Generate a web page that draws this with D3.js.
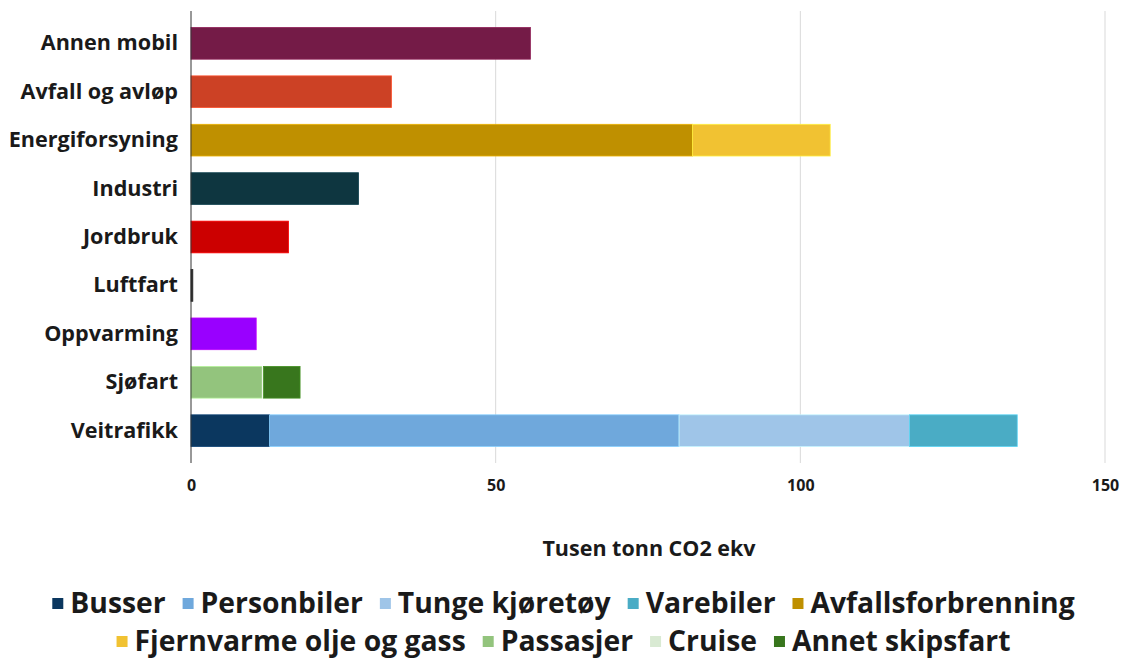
<!DOCTYPE html>
<html>
<head>
<meta charset="utf-8">
<script src="https://cdn.jsdelivr.net/npm/d3@7"></script>
<style>
  body { margin: 0; background: #fff; }
  text { font-family: "Open Sans", Lato, sans-serif; font-weight: 700; fill: #1a1a1a; }
</style>
</head>
<body>
<svg id="chart"></svg>
<script>
// categories (sectors)
const categories = ["Annen mobil", "Avfall og avløp", "Energiforsyning", "Industri",
    "Jordbruk", "Luftfart", "Oppvarming", "Sjøfart", "Veitrafikk"];

// series shown in the legend, with values per category (tusen tonn CO2 ekv)
const legendSeries = ["Busser", "Personbiler", "Tunge kjøretøy", "Varebiler",
    "Avfallsforbrenning", "Fjernvarme olje og gass", "Passasjer", "Cruise", "Annet skipsfart"];
const busser            = [0, 0, 0, 0, 0, 0, 0, 0, 12.9];
const personbiler       = [0, 0, 0, 0, 0, 0, 0, 0, 67.2];
const tungeKjoretoy     = [0, 0, 0, 0, 0, 0, 0, 0, 37.8];
const varebiler         = [0, 0, 0, 0, 0, 0, 0, 0, 17.7];
const avfallsforbrenning = [0, 0, 82.3, 0, 0, 0, 0, 0, 0];
const fjernvarme        = [0, 0, 22.6, 0, 0, 0, 0, 0, 0];
const passasjer         = [0, 0, 0, 0, 0, 0, 0, 11.7, 0];
const cruise            = [0, 0, 0, 0, 0, 0, 0, 0.2, 0];
const annetSkipsfart    = [0, 0, 0, 0, 0, 0, 0, 6.0, 0];

// sector totals without breakdown (not in legend)
const sectorSeries = ["Annen mobil", "Avfall og avløp", "Industri", "Jordbruk", "Luftfart", "Oppvarming"];
const sectorValues = [55.7, 32.9, 27.5, 16.0, 0.3, 10.7];

const xTicks = [0, 50, 100, 150];

const colors = {
    "Busser": "#0b375f",
    "Personbiler": "#6fa8dc",
    "Tunge kjøretøy": "#9fc5e8",
    "Varebiler": "#4aacc5",
    "Avfallsforbrenning": "#bf9000",
    "Fjernvarme olje og gass": "#f1c232",
    "Passasjer": "#93c47d",
    "Cruise": "#d9ead3",
    "Annet skipsfart": "#38761d",
    "Annen mobil": "#741b47",
    "Avfall og avløp": "#cc4125",
    "Industri": "#0e3640",
    "Jordbruk": "#cc0000",
    "Luftfart": "#222222",
    "Oppvarming": "#9900ff"
};

const W = 1127, H = 660;
const margin = { top: 11, left: 191, right: 22, bottom: 197 };

const legendValues = [busser, personbiler, tungeKjoretoy, varebiler,
    avfallsforbrenning, fjernvarme, passasjer, cruise, annetSkipsfart];

// build rows for d3.stack
const keys = legendSeries.concat(sectorSeries);
const rows = categories.map(function(c, i) {
    const r = { category: c };
    legendSeries.forEach(function(s, j) { r[s] = legendValues[j][i]; });
    sectorSeries.forEach(function(s, j) { r[s] = (s === c) ? sectorValues[j] : 0; });
    return r;
});
const stacked = d3.stack().keys(keys)(rows);

const svg = d3.select("#chart").attr("width", W).attr("height", H);

const x = d3.scaleLinear().domain([0, 150]).range([margin.left, W - margin.right]);
const y = d3.scaleBand().domain(categories)
    .range([margin.top, H - margin.bottom])
    .paddingInner(0.345).paddingOuter(0.34);

// gridlines
svg.append("g")
    .selectAll("line")
    .data(xTicks.filter(function(d) { return d > 0; }))
    .join("line")
    .attr("x1", d => x(d)).attr("x2", d => x(d))
    .attr("y1", margin.top).attr("y2", H - margin.bottom)
    .attr("stroke", "#d9d9d9").attr("stroke-width", 1);

// bars
svg.append("g")
    .selectAll("g")
    .data(stacked)
    .join("g")
    .attr("fill", d => colors[d.key])
    .attr("stroke", d => d3.color(colors[d.key]).brighter(0.6))
    .selectAll("rect")
    .data(d => d.filter(p => p[1] - p[0] > 0))
    .join("rect")
    .attr("x", d => x(d[0]))
    .attr("y", d => y(d.data.category))
    .attr("width", d => Math.max(1, x(d[1]) - x(d[0])))
    .attr("height", y.bandwidth())
    .attr("stroke-width", 0.8);

// y axis line + labels
const yAxis = d3.axisLeft(y).tickSize(0).tickPadding(13);
const gy = svg.append("g")
    .attr("transform", "translate(" + margin.left + ",0)")
    .call(yAxis);
gy.select(".domain").remove();
gy.selectAll("text").style("font-size", "21.6px").attr("fill", "#1a1a1a");
svg.append("line")
    .attr("x1", x(0)).attr("x2", x(0))
    .attr("y1", margin.top).attr("y2", H - margin.bottom)
    .attr("stroke", "#333").attr("stroke-width", 1);

// x axis labels
const xAxis = d3.axisBottom(x).tickValues(xTicks).tickSize(0).tickPadding(17);
const gx = svg.append("g")
    .attr("transform", "translate(0," + (H - margin.bottom) + ")")
    .call(xAxis);
gx.select(".domain").remove();
gx.selectAll("text").style("font-size", "16px").attr("fill", "#1a1a1a");

// axis title
svg.append("text")
    .attr("x", (x(0) + x(150)) / 2 + 1)
    .attr("y", 556)
    .attr("text-anchor", "middle")
    .style("font-size", "21.5px")
    .text("Tusen tonn CO2 ekv");

// legend
const legendRows = [legendSeries.slice(0, 5), legendSeries.slice(5)];
const legendBase = [613, 651];
legendRows.forEach(function(items, r) {
    const g = svg.append("g");
    let cx = 0;
    items.forEach(function(name) {
        const item = g.append("g").attr("transform", "translate(" + cx + ",0)");
        item.append("rect")
            .attr("x", 0).attr("y", -15)
            .attr("width", 11).attr("height", 11)
            .attr("fill", colors[name]);
        const t = item.append("text")
            .attr("x", 18).attr("y", 0)
            .style("font-size", "28.3px")
            .text(name);
        cx += 18 + t.node().getComputedTextLength() + 17;
    });
    const total = cx - 17;
    g.attr("transform", "translate(" + ((W - total) / 2) + "," + legendBase[r] + ")");
});
</script>
</body>
</html>
